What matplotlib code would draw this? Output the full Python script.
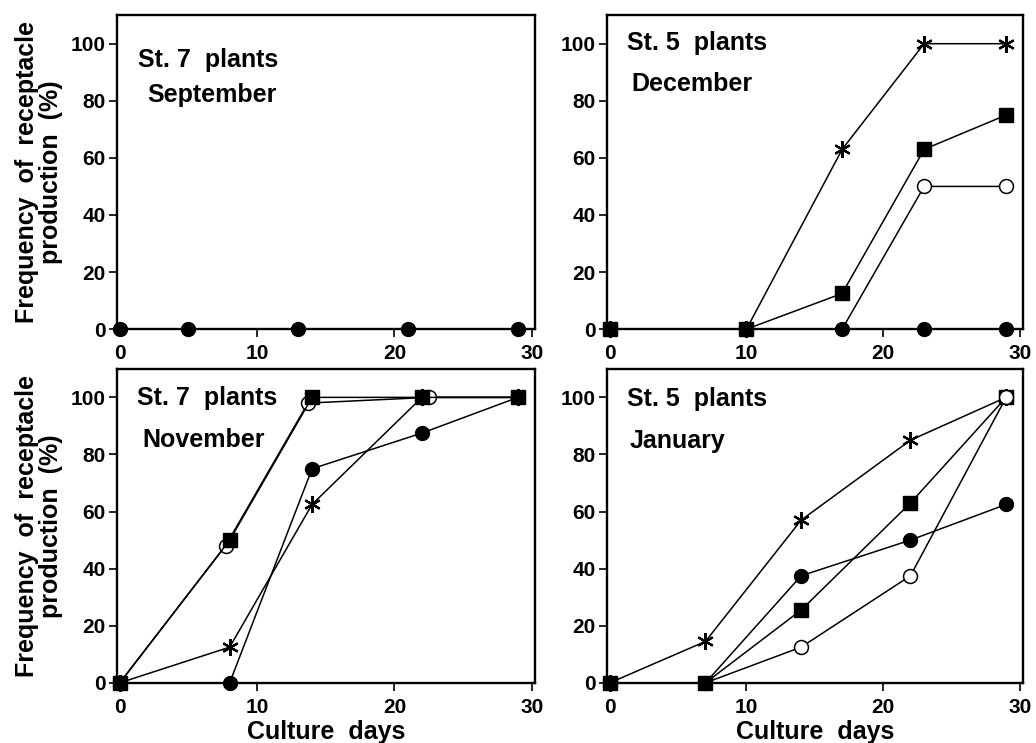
import matplotlib.pyplot as plt

plt.rcParams['font.family'] = ['Liberation Sans', 'DejaVu Sans']
plt.rcParams['font.weight'] = 'bold'

# September, St. 7 plants
sep_x = [0, 5, 13, 21, 29]
sep_filled = [0, 0, 0, 0, 0]

# December, St. 5 plants
dec_x = [0, 10, 17, 23, 29]
dec_star = [0, 0, 63, 100, 100]
dec_square = [0, 0, 12.5, 63, 75]
dec_open = [0, 0, 0, 50, 50]
dec_filled = [0, 0, 0, 0, 0]

# November, St. 7 plants
nov_x = [0, 8, 14, 22, 29]
nov_open_x = [0, 7.7, 13.7, 22.5, 29]
nov_star = [0, 12.5, 62.5, 100, 100]
nov_square = [0, 50, 100, 100, 100]
nov_open = [0, 48, 98, 100, 100]
nov_filled = [0, 0, 75, 87.5, 100]

# January, St. 5 plants
jan_x = [0, 7, 14, 22, 29]
jan_star = [0, 14.5, 57, 85, 100]
jan_square = [0, 0, 25.5, 63, 100]
jan_open = [0, 0, 12.5, 37.5, 100]
jan_filled = [0, 0, 37.5, 50, 62.5]

ylabel = 'Frequency  of  receptacle\nproduction  (%)'

fig = plt.figure(figsize=(10.36, 7.43), dpi=100)
ax_sep = fig.add_axes([0.113, 0.557, 0.403, 0.4226])
ax_dec = fig.add_axes([0.586, 0.557, 0.401, 0.4226])
ax_nov = fig.add_axes([0.113, 0.081, 0.403, 0.4226])
ax_jan = fig.add_axes([0.586, 0.081, 0.401, 0.4226])

def star(ax, x, y, z=3, every=None):
    ax.plot(x, y, color='k', lw=1.1, marker=(6, 2, 0), ms=12, mew=1.6, zorder=z, markevery=every)

def square(ax, x, y, z=4, every=None):
    ax.plot(x, y, color='k', lw=1.1, marker='s', ms=9.5, zorder=z, markevery=every)

def opencirc(ax, x, y, z=5, every=None):
    ax.plot(x, y, color='k', lw=1.1, marker='o', ms=10, mfc='white', mew=1.1, zorder=z, markevery=every)

def filled(ax, x, y, z=3, every=None):
    ax.plot(x, y, color='k', lw=1.1, marker='o', ms=10, zorder=z, markevery=every)

filled(ax_sep, sep_x, sep_filled)

opencirc(ax_dec, dec_x, dec_open, z=3, every=[3, 4])
filled(ax_dec, dec_x, dec_filled, z=4)
star(ax_dec, dec_x, dec_star, z=4)
square(ax_dec, dec_x, dec_square, z=6)

filled(ax_nov, nov_x, nov_filled)
star(ax_nov, nov_x, nov_star)
opencirc(ax_nov, nov_open_x, nov_open, z=4, every=[1, 2, 3])
square(ax_nov, nov_x, nov_square, z=5)

filled(ax_jan, jan_x, jan_filled)
star(ax_jan, jan_x, jan_star)
square(ax_jan, jan_x, jan_square, z=4)
opencirc(ax_jan, jan_x, jan_open, z=5, every=[2, 3, 4])

titles = [(ax_sep, 'St. 7  plants', 'September', 0.05, 0.857, 0.072, 0.745),
          (ax_dec, 'St. 5  plants', 'December', 0.048, 0.91, 0.058, 0.78),
          (ax_nov, 'St. 7  plants', 'November', 0.048, 0.908, 0.06, 0.774),
          (ax_jan, 'St. 5  plants', 'January', 0.048, 0.905, 0.055, 0.77)]

for ax, t1, t2, x1, y1, x2, y2 in titles:
    ax.set_xlim(-0.2, 30.2)
    ax.set_ylim(0, 110)
    ax.set_xticks([0, 10, 20, 30])
    ax.set_yticks([0, 20, 40, 60, 80, 100])
    ax.tick_params(direction='out', length=6, width=1.2, labelsize=15)
    ax.tick_params(axis='x', pad=5)
    ax.tick_params(axis='y', pad=2)
    for s in ax.spines.values():
        s.set_linewidth(1.7)
    for lab in ax.get_xticklabels() + ax.get_yticklabels():
        lab.set_fontweight('bold')
    for a in ax.lines:
        a.set_clip_on(False)
    ax.text(x1, y1, t1, transform=ax.transAxes, fontsize=18, fontweight='bold',
            ha='left', va='center')
    ax.text(x2, y2, t2, transform=ax.transAxes, fontsize=18, fontweight='bold',
            ha='left', va='center')

for ax in [ax_sep, ax_nov]:
    ax.set_ylabel(ylabel, fontsize=18, fontweight='bold', linespacing=1.0, labelpad=6)
for ax in [ax_nov, ax_jan]:
    ax.set_xlabel('Culture  days', fontsize=18, fontweight='bold', labelpad=2)

fig.savefig('out.png', dpi=100)
